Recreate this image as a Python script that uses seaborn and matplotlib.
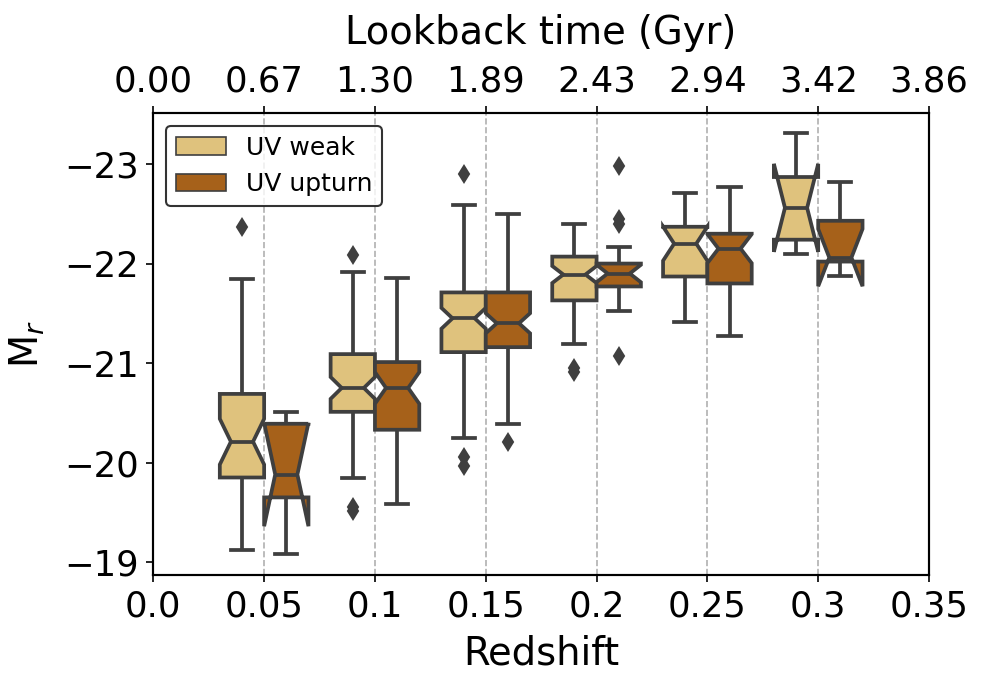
import numpy as np
import pandas as pd
import matplotlib
matplotlib.use('Agg')
import matplotlib.pyplot as plt
import seaborn as sns

redshift = [0.05, 0.1, 0.15, 0.2, 0.25, 0.3]
xtick_pos = [0.0, 0.05, 0.1, 0.15, 0.2, 0.25, 0.3, 0.35]
xtick_labels = ['0.0', '0.05', '0.1', '0.15', '0.2', '0.25', '0.3', '0.35']
lookback_labels = ['0.00', '0.67', '1.30', '1.89', '2.43', '2.94', '3.42', '3.86']
groups = ['UV weak', 'UV upturn']
colors = ['#dfc27d', '#a6611a']

# box statistics (M_r in mag), one entry per redshift bin
weak_wlo = [-21.84, -21.92, -22.59, -22.40, -22.71, -23.31]
weak_q1 = [-20.69, -21.09, -21.71, -22.07, -22.37, -22.87]
weak_med = [-20.21, -20.75, -21.45, -21.89, -22.20, -22.56]
weak_q3 = [-19.85, -20.51, -21.11, -21.63, -21.87, -22.24]
weak_whi = [-19.12, -19.84, -20.25, -21.19, -21.41, -22.10]
weak_fliers = [[-22.37], [-22.09, -19.55, -19.51], [-22.90, -20.06, -19.97],
               [-20.95, -20.91], [], []]
weak_n = [33, 69, 81, 65, 21, 5]

upturn_wlo = [-20.51, -21.85, -22.50, -22.17, -22.77, -22.82]
upturn_q1 = [-20.39, -21.01, -21.71, -22.00, -22.30, -22.43]
upturn_med = [-19.88, -20.75, -21.40, -21.90, -22.15, -22.06]
upturn_q3 = [-19.65, -20.33, -21.16, -21.77, -21.80, -22.02]
upturn_whi = [-19.08, -19.58, -20.39, -21.52, -21.27, -21.88]
upturn_fliers = [[], [], [-20.21], [-22.98, -22.45, -22.40, -21.07], [], []]
upturn_n = [5, 45, 73, 17, 29, 5]


def sample(wlo, q1, med, q3, whi, fliers, n):
    # n = 4k+1 values whose quartiles, whiskers and outliers equal the read ones
    k = (n - 1) // 4
    lo = sorted(f for f in fliers if f < med)
    hi = sorted(f for f in fliers if f > med)
    return (lo + [wlo] + [q1] * (k - len(lo)) + [med] * k
            + [q3] * (2 * k - len(hi) - 1) + [whi] + hi)


rows = []
stats = {
    'UV weak': (weak_wlo, weak_q1, weak_med, weak_q3, weak_whi, weak_fliers, weak_n),
    'UV upturn': (upturn_wlo, upturn_q1, upturn_med, upturn_q3, upturn_whi, upturn_fliers, upturn_n),
}
for g in groups:
    cols = stats[g]
    for i, z in enumerate(redshift):
        vals = sample(*[c[i] for c in cols])
        rows += [{'z': z, 'Mr': v, 'type': g} for v in vals]
df = pd.DataFrame(rows)

plt.rcParams['axes.linewidth'] = 1.0

fig, ax = plt.subplots(figsize=(986 / 150, 686 / 150), dpi=150)
fig.subplots_adjust(left=0.1555, right=0.9422, bottom=0.1618, top=0.8348)

sns.boxplot(data=df, x='z', y='Mr', hue='type', hue_order=groups,
            palette=colors, saturation=1, native_scale=True, notch=True,
            width=0.8, linewidth=1.8, linecolor='#3f3f3f', fliersize=5.5,
            flierprops={'marker': 'd', 'markerfacecolor': '#3f3f3f',
                        'markeredgecolor': '#3f3f3f'},
            ax=ax)

ax.set_xlim(0, 0.35)
ax.set_xticks(xtick_pos)
ax.set_xticklabels(xtick_labels)
ax.set_ylim(-18.87, -23.51)
ax.set_yticks([-23, -22, -21, -20, -19])
ax.tick_params(labelsize=17)
ax.set_xlabel('Redshift', fontsize=18.5, labelpad=5)
ax.set_ylabel('M$_r$', fontsize=18.5, labelpad=8)
ax.grid(axis='x', linestyle='--', color='#b0b0b0', linewidth=0.8)
ax.set_axisbelow(True)

old = ax.get_legend()
handles = old.legend_handles
labels = [t.get_text() for t in old.get_texts()]
for h in handles:
    h.set_linewidth(0.8)
ax.legend(handles, labels, loc='upper left', fontsize=12, edgecolor='black')

ax2 = ax.twiny()
ax2.set_xlim(0, 0.35)
ax2.set_xticks(xtick_pos)
ax2.set_xticklabels(lookback_labels)
ax2.tick_params(labelsize=17)
ax2.set_xlabel('Lookback time (Gyr)', fontsize=18.5, labelpad=10)

fig.savefig('out.png', dpi=150)
